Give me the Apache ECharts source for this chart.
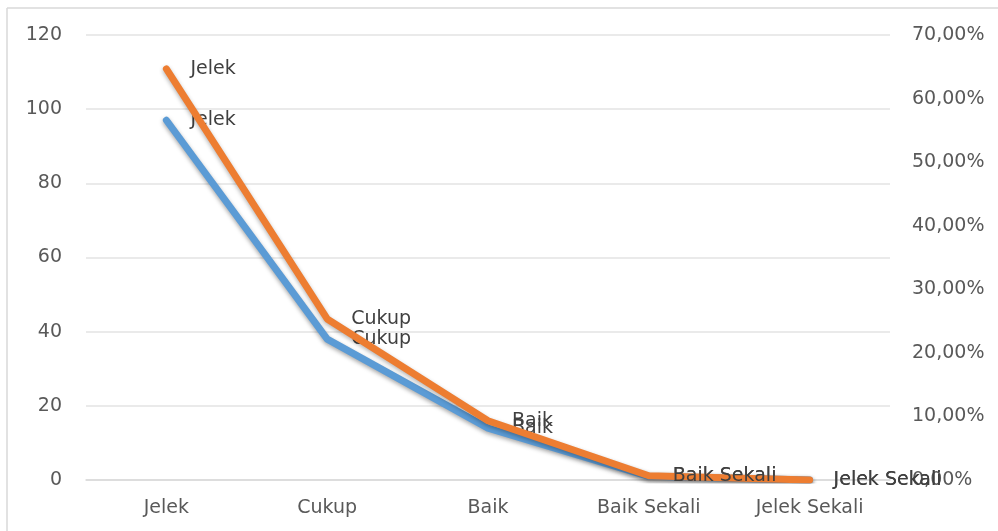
<!DOCTYPE html>
<html>
<head>
<meta charset="utf-8">
<script src="https://cdn.jsdelivr.net/npm/echarts@6/dist/echarts.min.js"></script>
<style>html,body{margin:0;padding:0;background:#fff}#c{width:998px;height:531px}</style>
</head>
<body>
<div id="c"></div>
<script>
var categories = ['Jelek', 'Cukup', 'Baik', 'Baik Sekali', 'Jelek Sekali'];
var countValues = [97, 38, 14, 1, 0];
var percentValues = [64.67, 25.33, 9.33, 0.67, 0];
var leftTicks = {min: 0, max: 120, interval: 20};
var rightTicks = {min: 0, max: 70, interval: 10};

var chart = echarts.init(document.getElementById('c'));
var FONT = 'DejaVu Sans';
var labelStyle = {
  show: true, position: 'right', distance: 24, formatter: '{b}',
  color: '#404040', fontFamily: FONT, fontSize: 19
};
chart.setOption({
  animation: false,
  backgroundColor: '#fff',
  graphic: [
    {type: 'line', shape: {x1: 7, y1: 8, x2: 998, y2: 8}, style: {stroke: '#d9d9d9', lineWidth: 1.5}},
    {type: 'line', shape: {x1: 7, y1: 8, x2: 7, y2: 531}, style: {stroke: '#d9d9d9', lineWidth: 1.5}}
  ],
  grid: {left: 86, right: 108, top: 35, bottom: 51},
  xAxis: {
    type: 'category', data: categories, boundaryGap: true,
    axisLine: {show: true, lineStyle: {color: '#d9d9d9', width: 1.5}},
    axisTick: {show: false},
    axisLabel: {color: '#595959', fontFamily: FONT, fontSize: 19, margin: 19}
  },
  yAxis: [{
    type: 'value', min: leftTicks.min, max: leftTicks.max, interval: leftTicks.interval,
    axisLine: {show: false}, axisTick: {show: false},
    splitLine: {lineStyle: {color: '#e3e3e3', width: 1.5}},
    axisLabel: {color: '#595959', fontFamily: FONT, fontSize: 19, margin: 24}
  }, {
    type: 'value', min: rightTicks.min, max: rightTicks.max, interval: rightTicks.interval,
    position: 'right',
    axisLine: {show: false}, axisTick: {show: false}, splitLine: {show: false},
    axisLabel: {color: '#595959', fontFamily: FONT, fontSize: 19, margin: 22,
      formatter: function (v) { return v.toFixed(2).replace('.', ',') + '%'; }}
  }],
  series: [{
    name: 'Jumlah', type: 'line', yAxisIndex: 0, data: countValues,
    symbol: 'circle', symbolSize: 0, showSymbol: true, z: 2,
    lineStyle: {color: '#5b9bd5', width: 7, cap: 'round', join: 'round',
      shadowColor: 'rgba(0,0,0,0.35)', shadowBlur: 4, shadowOffsetY: 2},
    itemStyle: {color: '#5b9bd5'},
    label: labelStyle,
    labelLayout: {hideOverlap: false}
  }, {
    name: 'Persen', type: 'line', yAxisIndex: 1, data: percentValues,
    symbol: 'circle', symbolSize: 0, showSymbol: true, z: 3,
    lineStyle: {color: '#ed7d31', width: 7, cap: 'round', join: 'round',
      shadowColor: 'rgba(0,0,0,0.3)', shadowBlur: 4, shadowOffsetY: 2},
    itemStyle: {color: '#ed7d31'},
    label: labelStyle,
    labelLayout: {hideOverlap: false}
  }]
});
</script>
</body>
</html>
